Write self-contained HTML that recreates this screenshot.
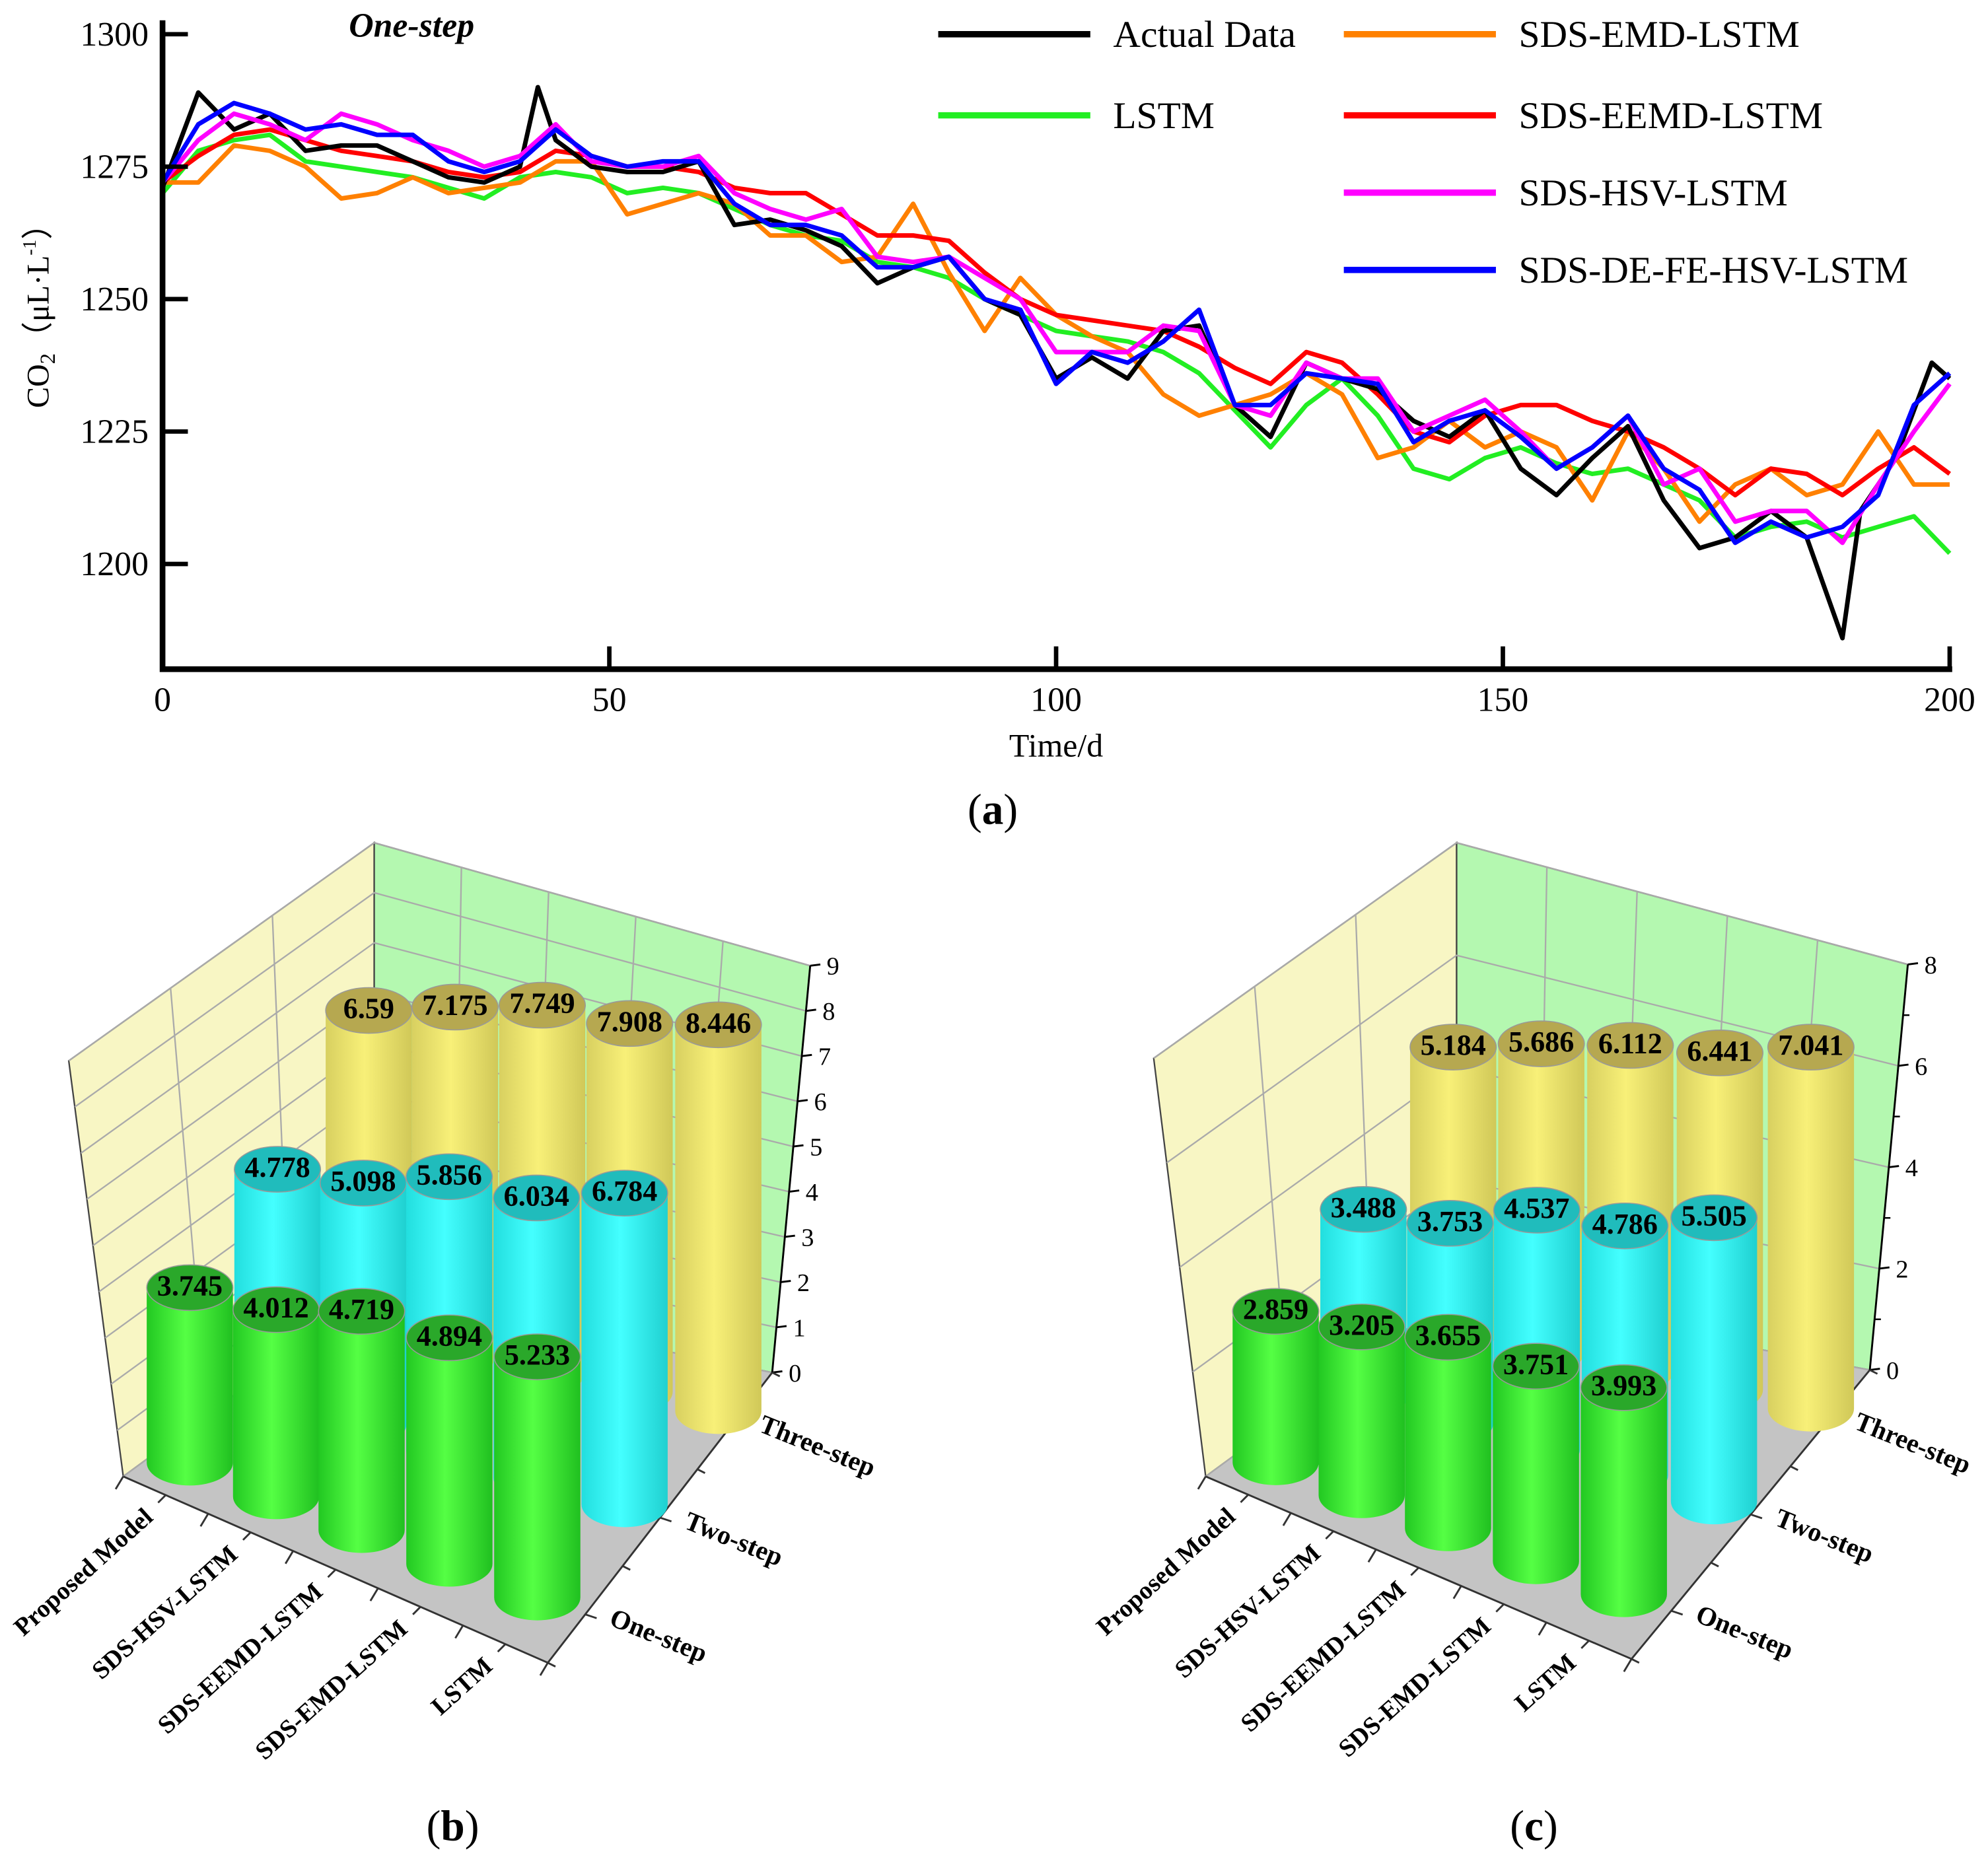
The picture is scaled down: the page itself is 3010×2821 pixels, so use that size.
<!DOCTYPE html>
<html><head><meta charset="utf-8"><style>
html,body{margin:0;padding:0;background:#fff}
svg{display:block}
text{font-family:"Liberation Serif",serif}
</style></head><body>
<svg id="root" width="3010" height="2821" viewBox="0 0 1568 1470" xmlns="http://www.w3.org/2000/svg">
<defs>
<clipPath id="plotclip"><rect x="128" y="10" width="1412" height="516"/></clipPath>
<linearGradient id="gGreen" x1="0" x2="1" y1="0" y2="0"><stop offset="0" stop-color="#22c822"/><stop offset="0.45" stop-color="#55ff44"/><stop offset="1" stop-color="#20c020"/></linearGradient>
<linearGradient id="gCyan" x1="0" x2="1" y1="0" y2="0"><stop offset="0" stop-color="#22dede"/><stop offset="0.45" stop-color="#44ffff"/><stop offset="1" stop-color="#1fd0d0"/></linearGradient>
<linearGradient id="gYellow" x1="0" x2="1" y1="0" y2="0"><stop offset="0" stop-color="#d8d060"/><stop offset="0.45" stop-color="#f8f078"/><stop offset="1" stop-color="#d0c858"/></linearGradient>
</defs>
<g id="lineChart"></g>
<g id="barB"></g>
<g id="barC"></g>
<text x="783" y="650" font-size="34" text-anchor="middle">(<tspan font-weight="bold">a</tspan>)</text>
<text x="357" y="1452" font-size="34" text-anchor="middle">(<tspan font-weight="bold">b</tspan>)</text>
<text x="1210" y="1452" font-size="34" text-anchor="middle">(<tspan font-weight="bold">c</tspan>)</text>
</svg>
<script>
const days=[0,4,8,12,16,20,24,28,32,36,40,44,48,52,56,60,64,68,72,76,80,84,88,92,96,100,104,108,112,116,120,124,128,132,136,140,144,148,152,156,160,164,168,172,176,180,184,188,192,196,200];
const actualDays=[0,4,8,12,16,20,24,28,32,36,40,42,44,48,52,56,60,64,68,72,76,80,84,88,92,96,100,104,108,112,116,120,124,128,132,136,140,144,148,152,156,160,164,168,172,176,180,184,188,190,194,198,200];
const actualData=[1271,1289,1282,1285,1278,1279,1279,1276,1273,1272,1275,1290,1280,1275,1274,1274,1276,1264,1265,1263,1260,1253,1256,1258,1250,1247,1235,1239,1235,1244,1245,1230,1224,1238,1235,1233,1227,1224,1229,1218,1213,1220,1226,1212,1203,1205,1210,1205,1186,1210,1220,1238,1235];
const lstm=[1270,1278,1280,1281,1276,1275,1274,1273,1271,1269,1273,1274,1273,1270,1271,1270,1267,1264,1262,1261,1257,1256,1254,1250,1247,1244,1243,1242,1240,1236,1229,1222,1230,1235,1228,1218,1216,1220,1222,1219,1217,1218,1215,1212,1205,1207,1208,1205,1207,1209,1202];
const emd=[1272,1272,1279,1278,1275,1269,1270,1273,1270,1271,1272,1276,1276,1266,1268,1270,1268,1262,1262,1257,1258,1268,1255,1244,1254,1247,1243,1240,1232,1228,1230,1232,1236,1232,1220,1222,1227,1222,1225,1222,1212,1225,1218,1208,1215,1218,1213,1215,1225,1215,1215];
const eemd=[1272,1277,1281,1282,1280,1278,1277,1276,1274,1273,1274,1278,1277,1275,1275,1274,1271,1270,1270,1266,1262,1262,1261,1255,1250,1247,1246,1245,1244,1241,1237,1234,1240,1238,1232,1225,1223,1228,1230,1230,1227,1225,1222,1218,1213,1218,1217,1213,1218,1222,1217];
const hsv=[1272,1280,1285,1283,1280,1285,1283,1280,1278,1275,1277,1283,1276,1275,1275,1277,1270,1267,1265,1267,1258,1257,1258,1254,1250,1240,1240,1240,1245,1244,1230,1228,1238,1235,1235,1225,1228,1231,1225,1218,1222,1228,1215,1218,1208,1210,1210,1204,1215,1225,1234];
const defe=[1272,1283,1287,1285,1282,1283,1281,1281,1276,1274,1276,1282,1277,1275,1276,1276,1268,1264,1264,1262,1256,1256,1258,1250,1248,1234,1240,1238,1242,1248,1230,1230,1236,1235,1234,1223,1227,1229,1224,1218,1222,1228,1218,1214,1204,1208,1205,1207,1213,1230,1236];
const xTicks=[0,50,100,150,200];
const yTicks=[1200,1225,1250,1275,1300];

const models=["Proposed Model","SDS-HSV-LSTM","SDS-EEMD-LSTM","SDS-EMD-LSTM","LSTM"];
const steps=["One-step","Two-step","Three-step"];
const bOne=[3.745,4.012,4.719,4.894,5.233];
const bTwo=[4.778,5.098,5.856,6.034,6.784];
const bThree=[6.59,7.175,7.749,7.908,8.446];
const cOne=[2.859,3.205,3.655,3.751,3.993];
const cTwo=[3.488,3.753,4.537,4.786,5.505];
const cThree=[5.184,5.686,6.112,6.441,7.041];
const bZTicks=[0,1,2,3,4,5,6,7,8,9];
const cZTicks=[0,2,4,6,8];
const cZMinor=[1,3,5,7];

const NS="http://www.w3.org/2000/svg";
function mk(tag,attrs,parent,txt){const e=document.createElementNS(NS,tag);for(const k in attrs)e.setAttribute(k,attrs[k]);if(txt!==undefined)e.textContent=txt;parent.appendChild(e);return e;}

// ---- line chart
const LC=document.getElementById('lineChart');
const X=d=>128+(d/200)*1410;
const Y=v=>445-(v-1200)*(418/100);
const series=[
 {name:'LSTM',days:days,vals:lstm,color:'#22ee22'},
 {name:'SDS-EMD-LSTM',days:days,vals:emd,color:'#ff8000'},
 {name:'SDS-EEMD-LSTM',days:days,vals:eemd,color:'#ff0000'},
 {name:'Actual Data',days:actualDays,vals:actualData,color:'#000000'},
 {name:'SDS-HSV-LSTM',days:days,vals:hsv,color:'#ff00ff'},
 {name:'SDS-DE-FE-HSV-LSTM',days:days,vals:defe,color:'#0000ff'}
];
const clipG=mk('g',{'clip-path':'url(#plotclip)'},LC);
series.forEach(s=>{
 const d=s.vals.map((v,i)=>(i?'L':'M')+X(s.days[i]).toFixed(1)+' '+Y(v).toFixed(1)).join(' ');
 const p=mk('path',{d:d,fill:'none',stroke:s.color,'stroke-width':3.6,'stroke-linejoin':'round'},clipG);
 
 
});
const ax=mk('path',{d:'M128 16 L128 528 L1540 528',fill:'none',stroke:'#000','stroke-width':4.5},LC);


xTicks.forEach(t=>{
 mk('line',{x1:X(t),x2:X(t),y1:528,y2:510,stroke:'#000','stroke-width':3.5},LC);
 const tx=mk('text',{x:X(t),y:561,'font-size':27,'text-anchor':'middle'},LC,String(t));
 
 
});
yTicks.forEach(t=>{
 mk('line',{x1:128,x2:148,y1:Y(t),y2:Y(t),stroke:'#000','stroke-width':3.5},LC);
 const tx=mk('text',{x:117,y:Y(t)+9,'font-size':27,'text-anchor':'end'},LC,String(t));
 
 
});
const xt=mk('text',{x:833,y:597,'font-size':26,'text-anchor':'middle'},LC,'Time/d');


const yt=mk('text',{x:0,y:0,'font-size':25,'text-anchor':'middle',transform:'translate(38,243) rotate(-90)'},LC);


yt.innerHTML='CO<tspan font-size="17" dy="5">2</tspan><tspan dy="-5">（μL·L</tspan><tspan font-size="15" dy="-10">-1</tspan><tspan dy="10">）</tspan>';
const st=mk('text',{x:275,y:29,'font-size':27,'font-weight':'bold','font-style':'italic'},LC,'One-step');


const leg=[['Actual Data','#000',740,27],['LSTM','#22ee22',740,91],['SDS-EMD-LSTM','#ff8000',1060,27],['SDS-EEMD-LSTM','#ff0000',1060,91],['SDS-HSV-LSTM','#ff00ff',1060,152],['SDS-DE-FE-HSV-LSTM','#0000ff',1060,213]];
leg.forEach(l=>{
 const g=mk('g',{},LC);
 
 
 mk('line',{x1:l[2],x2:l[2]+120,y1:l[3],y2:l[3],stroke:l[1],'stroke-width':5},g);
 mk('text',{x:l[2]+138,y:l[3]+10,'font-size':30},g,l[0]);
});

// ---- 3D bar charts (trilinear projection from 8 measured corners)
function bar3d(root,cfg){
 const C=cfg.corners;
 const lerp=(a,b,t)=>[a[0]+(b[0]-a[0])*t,a[1]+(b[1]-a[1])*t];
 const P=(m,s,z)=>{const u=m/5,v=s/3,w=z/cfg.zmax;
  const b=lerp(lerp(C.f0,C.r0,u),lerp(C.bl0,C.br0,u),v);
  const t=lerp(lerp(C.f1,C.r1,u),lerp(C.bl1,C.br1,u),v);
  return lerp(b,t,w);};
 const pts=a=>a.map(p=>p[0].toFixed(1)+','+p[1].toFixed(1)).join(' ');
 const zmax=cfg.zmax;
 const lw=mk('polygon',{points:pts([P(0,0,0),P(0,3,0),P(0,3,zmax),P(0,0,zmax)]),fill:'#f8f6c4',stroke:'#444','stroke-width':1.2},root);
 
 
 const bw=mk('polygon',{points:pts([P(0,3,0),P(5,3,0),P(5,3,zmax),P(0,3,zmax)]),fill:'#b4f8b0',stroke:'#444','stroke-width':1.2},root);
 
 
 const fl=mk('polygon',{points:pts([P(0,0,0),P(5,0,0),P(5,3,0),P(0,3,0)]),fill:'#c4c4c4',stroke:'#777','stroke-width':1},root);
 
 
 cfg.ticks.forEach(t=>{
  const a=P(0,0,t),b=P(0,3,t),c=P(5,3,t);
  mk('polyline',{points:pts([a,b,c]),fill:'none',stroke:'#aaa','stroke-width':1.2},root);
  mk('line',{x1:c[0],y1:c[1],x2:c[0]+8,y2:c[1]-1,stroke:'#000','stroke-width':1.5},root);
  const tl=mk('text',{x:c[0]+13,y:c[1]+7,'font-size':20},root,String(t));
  
  
 });
 (cfg.minor||[]).forEach(t=>{const c=P(5,3,t);mk('line',{x1:c[0],y1:c[1],x2:c[0]+5,y2:c[1],stroke:'#000','stroke-width':1.3},root);});
 for(let s=1;s<3;s++){const a=P(0,s,0),b=P(0,s,zmax);mk('line',{x1:a[0],y1:a[1],x2:b[0],y2:b[1],stroke:'#aaa','stroke-width':1.2},root);}
 for(let m=1;m<5;m++){const a=P(m,3,0),b=P(m,3,zmax);mk('line',{x1:a[0],y1:a[1],x2:b[0],y2:b[1],stroke:'#aaa','stroke-width':1.2},root);}
 const za=P(5,3,0),zb=P(5,3,zmax);
 mk('line',{x1:za[0],y1:za[1],x2:zb[0],y2:zb[1],stroke:'#000','stroke-width':1.5},root);
 const f0=P(0,0,0),f1=P(5,0,0),f2=P(5,3,0);
 mk('polyline',{points:pts([f0,f1,f2]),fill:'none',stroke:'#333','stroke-width':1.5},root);
 for(let k=0;k<=10;k++){const p=P(k/2,0,0);mk('line',{x1:p[0],y1:p[1],x2:p[0]-6,y2:p[1]+(k%2?6:10),stroke:'#333','stroke-width':1.5},root);}
 for(let k=0;k<=6;k++){const p=P(5,k/2,0);mk('line',{x1:p[0],y1:p[1],x2:p[0]+(k%2?9:6),y2:p[1]+3,stroke:'#333','stroke-width':1.5},root);}
 models.forEach((name,i)=>{
  const p=P(i+0.5,0,0);
  const t=mk('text',{x:0,y:0,'font-size':20,'font-weight':'bold','text-anchor':'end',transform:`translate(${p[0]-9},${p[1]+19}) rotate(-42)`},root,name);
  
  
 });
 steps.forEach((name,j)=>{
  const p=P(5,j+0.5,0);
  const t=mk('text',{x:0,y:0,'font-size':21,'font-weight':'bold',transform:`translate(${p[0]+18},${p[1]+8}) rotate(22)`},root,name);
  
  
 });
 const rows=[[cfg.three,'url(#gYellow)','#b6a850'],[cfg.two,'url(#gCyan)','#20bcbc'],[cfg.one,'url(#gGreen)','#2aa82a']];
 const rx=34,ry=18;
 rows.forEach((r,ri)=>{
  const j=2-ri;
  r[0].forEach((v,i)=>{
   const b=P(i+0.5,j+0.5,0),t=P(i+0.5,j+0.5,v);
   const g=mk('g',{},root);
   
   
   mk('path',{d:`M${t[0]-rx} ${t[1]} L${t[0]-rx} ${b[1]} A${rx} ${ry} 0 0 0 ${t[0]+rx} ${b[1]} L${t[0]+rx} ${t[1]} Z`,fill:r[1]},g);
   mk('ellipse',{cx:t[0],cy:t[1],rx:rx,ry:ry,fill:r[2],stroke:'#999','stroke-width':0.8},g);
   mk('text',{x:t[0],y:t[1]+6,'font-size':23,'font-weight':'bold','text-anchor':'middle'},g,String(v));
  });
 });
}
bar3d(document.getElementById('barB'),{zmax:9,ticks:bZTicks,one:bOne,two:bTwo,three:bThree,
 corners:{f0:[97,1165],r0:[432,1312],br0:[609,1083],bl0:[295,1020],f1:[54,837],r1:[420,985],br1:[639,762],bl1:[295,665]}});
bar3d(document.getElementById('barC'),{zmax:8,ticks:cZTicks,minor:cZMinor,one:cOne,two:cTwo,three:cThree,
 corners:{f0:[951,1165],r0:[1287,1309],br0:[1475,1081],bl0:[1149,1020],f1:[910,835],r1:[1275,982],br1:[1505,761],bl1:[1149,665]}});
</script>
</body></html>
